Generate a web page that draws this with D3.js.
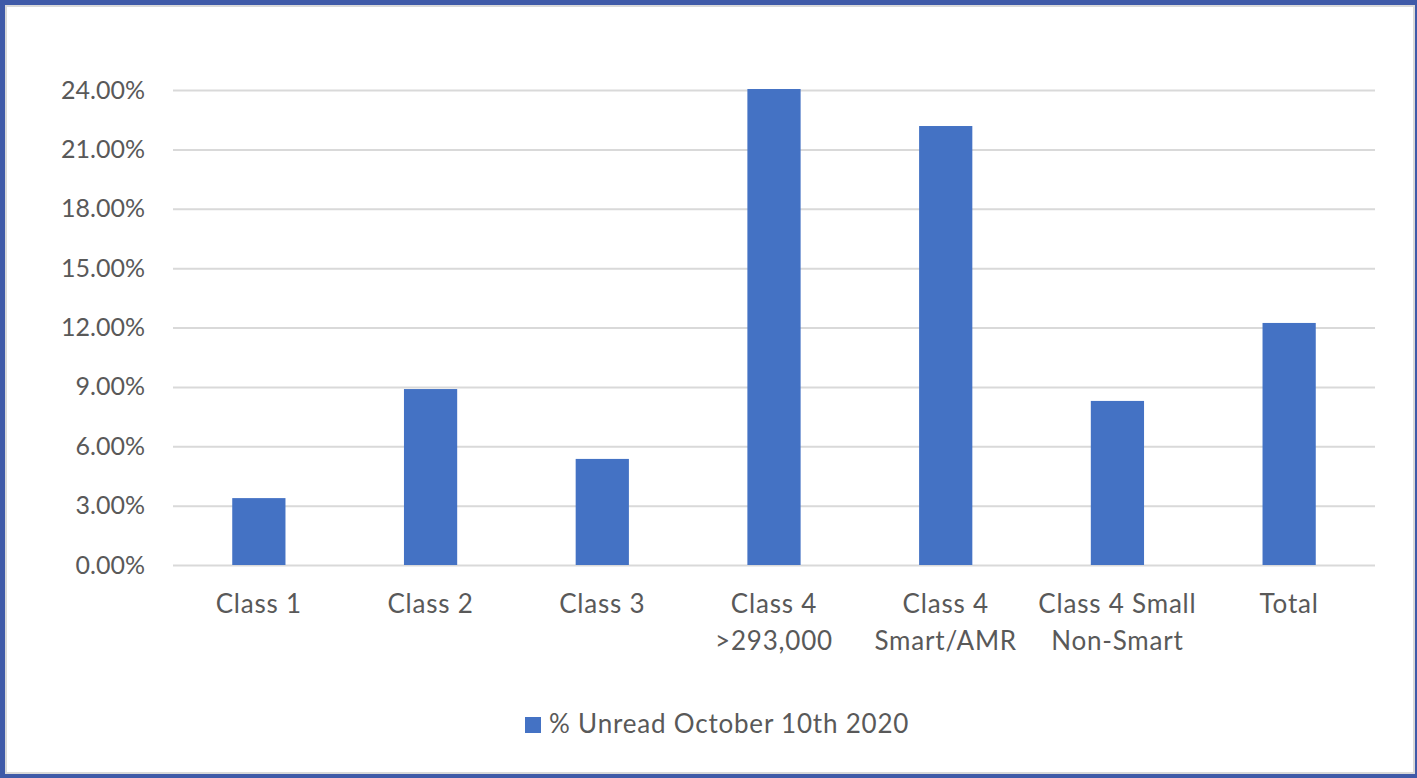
<!DOCTYPE html>
<html>
<head>
<meta charset="utf-8">
<script src="https://cdn.jsdelivr.net/npm/d3@7"></script>
<style>
  body { margin: 0; background: #fff; }
  svg { display: block; }
  text { font-family: Lato, "Open Sans", sans-serif; fill: #595959; }
</style>
</head>
<body>
<svg></svg>
<script>
// chart data
const categories = [
  ['Class 1'],
  ['Class 2'],
  ['Class 3'],
  ['Class 4', '>293,000'],
  ['Class 4', 'Smart/AMR'],
  ['Class 4 Small', 'Non-Smart'],
  ['Total']
];
const values = [0.0338, 0.0889, 0.0536, 0.2405, 0.2218, 0.0829, 0.1223];
const yTicks = [0, 0.03, 0.06, 0.09, 0.12, 0.15, 0.18, 0.21, 0.24];
const seriesName = '% Unread October 10th 2020';

let width = 1417;
let height = 778;
let plotLeft = 173, plotRight = 1375, plotTop = 90, plotBottom = 565;

let svg = d3.select('svg').attr('width', width).attr('height', height);

// frame
svg.append('rect').attr('width', width).attr('height', height).attr('fill', '#3F5AA8');
svg.append('rect').attr('x', 5).attr('y', 5).attr('width', 1410).attr('height', 769).attr('fill', '#d9d9d9');
svg.append('rect').attr('x', 7).attr('y', 7).attr('width', 1406).attr('height', 765).attr('fill', '#fff');

let xScale = d3.scaleBand()
  .domain(d3.range(categories.length))
  .range([plotLeft, plotRight])
  .paddingInner(0.69)
  .paddingOuter(0.345);

let yScale = d3.scaleLinear().domain([0, 0.24]).range([plotBottom, plotTop]);

// gridlines + y labels
let yAxis = d3.axisLeft(yScale)
  .tickValues(yTicks)
  .tickFormat(d3.format('.2%'))
  .tickSize(-(plotRight - plotLeft))
  .tickPadding(28);

let gy = svg.append('g')
  .attr('transform', `translate(${plotLeft},0)`)
  .call(yAxis);
gy.select('.domain').remove();
gy.selectAll('line').attr('stroke', '#d9d9d9').attr('stroke-width', 2);
gy.selectAll('text')
  .attr('font-size', 25)
  .attr('font-family', 'Lato, "Open Sans", sans-serif')
  .style('fill', '#595959');

// bars
svg.selectAll('rect.bar')
  .data(values)
  .enter()
  .append('rect')
  .attr('class', 'bar')
  .attr('x', (d, i) => xScale(i))
  .attr('width', xScale.bandwidth())
  .attr('y', d => yScale(d))
  .attr('height', d => plotBottom - yScale(d))
  .attr('fill', '#4472C4');

// category labels
let xl = svg.append('g');
categories.forEach((lines, i) => {
  let cx = xScale(i) + xScale.bandwidth() / 2;
  let t = xl.append('text')
    .attr('text-anchor', 'middle')
    .attr('font-size', 26)
    .attr('letter-spacing', 0.8)
    .attr('x', cx)
    .attr('y', 613);
  lines.forEach((ln, j) => {
    t.append('tspan')
      .attr('x', cx)
      .attr('dy', j === 0 ? 0 : 37)
      .text(ln);
  });
});

// legend
svg.append('rect')
  .attr('x', 525).attr('y', 717).attr('width', 16).attr('height', 16)
  .attr('fill', '#4472C4');
svg.append('text')
  .attr('x', 549).attr('y', 733)
  .attr('font-size', 26)
  .attr('letter-spacing', 0.8)
  .text(seriesName);
</script>
</body>
</html>
